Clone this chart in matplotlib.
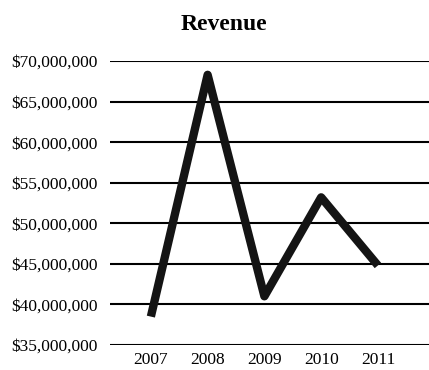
import matplotlib
matplotlib.use("Agg")
import matplotlib.pyplot as plt
from matplotlib.ticker import FuncFormatter

years = ["2007", "2008", "2009", "2010", "2011"]
revenue = [38500000, 68300000, 41000000, 53200000, 44800000]
yticks = [35000000, 40000000, 45000000, 50000000, 55000000, 60000000, 65000000, 70000000]

plt.rcParams['font.family'] = ['Liberation Serif', 'DejaVu Serif']

fig = plt.figure(figsize=(4.29, 3.70), dpi=100)
ax = fig.add_axes([110/429, 1-345/370, 1-110/429, (345-61)/370])

x = list(range(len(years)))
ax.plot(x, revenue, color='#141414', linewidth=6, solid_joinstyle='round',
        solid_capstyle='butt', clip_on=False, zorder=3)

ax.set_ylim(35000000, 70000000)
ax.set_xlim(-0.72, 4.9)
ax.set_yticks(yticks)
ax.yaxis.set_major_formatter(FuncFormatter(lambda v, p: "${:,.0f}".format(v)))
ax.set_xticks(x)
ax.set_xticklabels(years)
ax.grid(axis='y', color='black', linewidth=1.5)
ax.set_axisbelow(True)
for s in ax.spines.values():
    s.set_visible(False)
ax.tick_params(axis='both', length=0, labelsize=12.5, colors='black')
ax.tick_params(axis='y', pad=9)
ax.tick_params(axis='x', pad=5)

fig.text(224/429, 1-25/370, "Revenue", ha='center', va='center',
         fontsize=17, fontweight='bold')

fig.savefig("out.png", dpi=100)
